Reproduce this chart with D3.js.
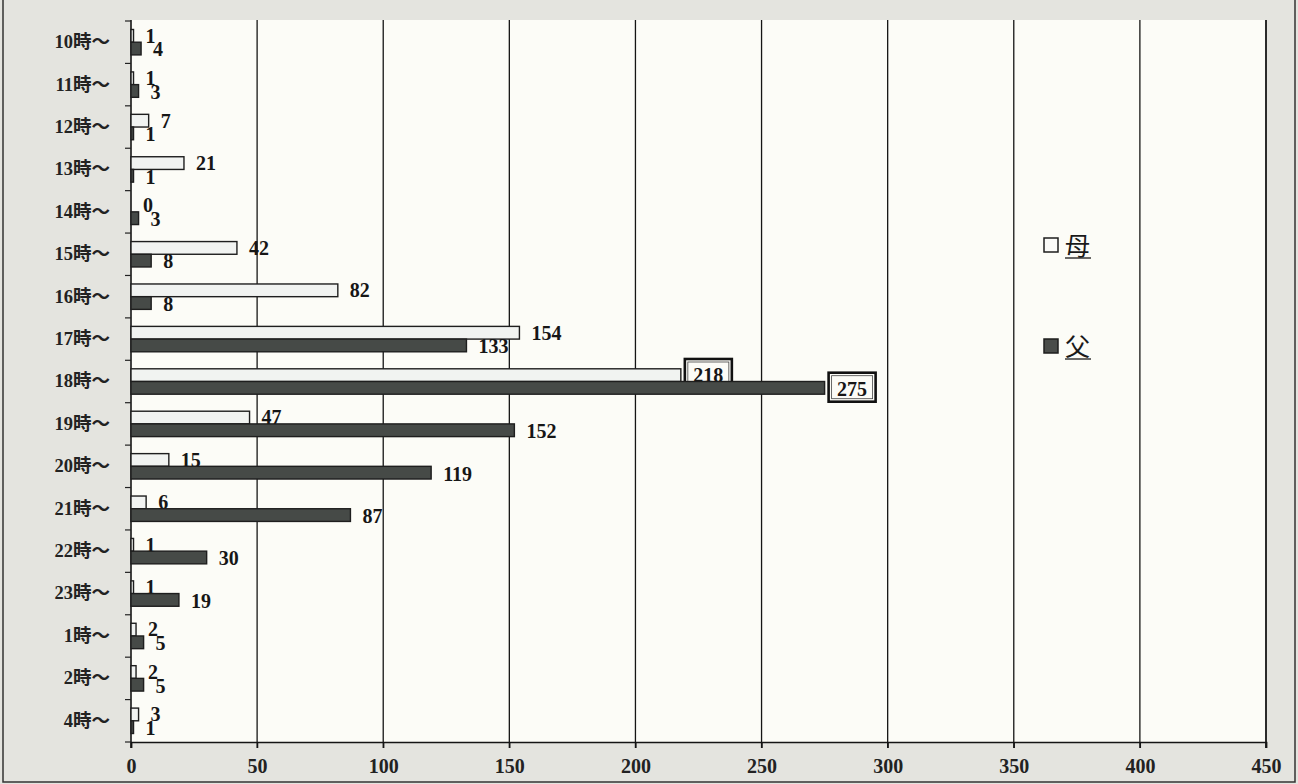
<!DOCTYPE html>
<html>
<head>
<meta charset="utf-8">
<script src="https://cdn.jsdelivr.net/npm/d3@7"></script>
<style>
  html, body { margin: 0; padding: 0; background: #e4e4df; }
  svg { display: block; }
  .num { font-family: "Liberation Serif", serif; font-weight: bold; font-size: 20px; fill: #161616; }
  .cat text { font-family: "Liberation Serif", "Noto Sans CJK JP", serif; font-weight: bold; font-size: 18.5px; fill: #222; }
  .xax text { font-family: "Liberation Serif", serif; font-weight: bold; font-size: 20px; fill: #222; }
  .legend text { font-family: "Noto Sans CJK JP", sans-serif; font-size: 25px; fill: #1a1a1a; }
</style>
</head>
<body>
<svg id="chart" width="1298" height="784"></svg>
<script>
// Time slots (hour the activity starts) and counts per parent
const categories = ["10時～", "11時～", "12時～", "13時～", "14時～", "15時～", "16時～", "17時～",
                    "18時～", "19時～", "20時～", "21時～", "22時～", "23時～", "1時～", "2時～", "4時～"];
const motherValues = [1, 1, 7, 21, 0, 42, 82, 154, 218, 47, 15, 6, 1, 1, 2, 2, 3];
const fatherValues = [4, 3, 1, 1, 3, 8, 8, 133, 275, 152, 119, 87, 30, 19, 5, 5, 1];
const seriesNames = ["母", "父"];
const xTicks = [0, 50, 100, 150, 200, 250, 300, 350, 400, 450];
const peakSlot = "18時～";

const W = 1298, H = 784;
const plot = { left: 131, right: 1266, top: 20, bottom: 742 };

const svg = d3.select("#chart");

// outer panel and frame
svg.append("rect").attr("x", 0).attr("y", 0).attr("width", W).attr("height", H).attr("fill", "#e4e4df");
svg.append("path")
  .attr("d", `M3,0 V782 H1295 V0`)
  .attr("fill", "none").attr("stroke", "#333").attr("stroke-width", 1.5);

// plot background
svg.append("rect")
  .attr("x", plot.left).attr("y", plot.top)
  .attr("width", plot.right - plot.left).attr("height", plot.bottom - plot.top)
  .attr("fill", "#fcfcf7");

const x = d3.scaleLinear().domain([0, 450]).range([plot.left, plot.right]);
const y = d3.scaleBand().domain(categories).range([plot.top + 1, plot.bottom]).padding(0);
const sub = d3.scaleBand().domain(seriesNames).range([0, y.bandwidth()]).paddingInner(0).paddingOuter(0.67);

// vertical gridlines
svg.append("g").selectAll("line").data(xTicks.filter(d => d > 0)).join("line")
  .attr("x1", d => x(d)).attr("x2", d => x(d))
  .attr("y1", plot.top).attr("y2", plot.bottom + 6)
  .attr("stroke", "#151515").attr("stroke-width", d => d === 450 ? 1.8 : 1.3);

// x axis
const xAxis = svg.append("g").attr("class", "xax")
  .attr("transform", `translate(0,${plot.bottom})`)
  .call(d3.axisBottom(x).tickValues(xTicks).tickSize(6).tickPadding(11));
xAxis.select(".domain").attr("stroke", "#151515").attr("stroke-width", 1.6);
xAxis.selectAll(".tick line").attr("stroke", "#151515").attr("stroke-width", 1.3);

// y axis: labels centred on each band, ticks on band boundaries
const yAxis = svg.append("g").attr("class", "cat")
  .attr("transform", `translate(${plot.left},0)`)
  .call(d3.axisLeft(y).tickSize(0).tickPadding(21));
yAxis.select(".domain").remove();
svg.append("line")
  .attr("x1", plot.left).attr("x2", plot.left)
  .attr("y1", plot.top).attr("y2", plot.bottom + 6)
  .attr("stroke", "#151515").attr("stroke-width", 1.6);
const bounds = categories.map(c => y(c)).concat([y.range()[1]]);
svg.append("g").selectAll("line").data(bounds).join("line")
  .attr("x1", plot.left - 6).attr("x2", plot.left)
  .attr("y1", d => d).attr("y2", d => d)
  .attr("stroke", "#222").attr("stroke-width", 1.2);

const series = [
  { name: "母", values: motherValues, fill: "#f1f3f1", labelDrop: 0.5 },
  { name: "父", values: fatherValues, fill: "#464a47", labelDrop: 1.5 }
];

const barsLayer = svg.append("g");

series.forEach(s => {
  const rows = categories.map((c, i) => ({ cat: c, value: s.values[i] }));
  const g = barsLayer.append("g");
  g.selectAll("rect").data(rows.filter(d => d.value > 0)).join("rect")
    .attr("x", x(0))
    .attr("y", d => y(d.cat) + sub(s.name))
    .attr("width", d => x(d.value) - x(0))
    .attr("height", sub.bandwidth())
    .attr("fill", s.fill)
    .attr("stroke", "#1e1e1e").attr("stroke-width", 1.4);

  const base = d => y(d.cat) + sub(s.name) + sub.bandwidth() + s.labelDrop;

  // plain value labels
  g.selectAll("text.num").data(rows.filter(d => d.cat !== peakSlot)).join("text")
    .attr("class", "num")
    .attr("x", d => x(d.value) + 12)
    .attr("y", base)
    .text(d => d.value);

  // framed value labels for the peak time slot
  const boxed = g.selectAll("g.boxed").data(rows.filter(d => d.cat === peakSlot)).join("g").attr("class", "boxed");
  boxed.append("rect")
    .attr("x", d => x(d.value) + 4).attr("y", d => base(d) - 23)
    .attr("width", 47).attr("height", 29)
    .attr("fill", "#fcfcf7").attr("stroke", "#111").attr("stroke-width", 2.6);
  boxed.append("rect")
    .attr("x", d => x(d.value) + 7).attr("y", d => base(d) - 20)
    .attr("width", 41).attr("height", 23)
    .attr("fill", "none").attr("stroke", "#444").attr("stroke-width", 0.8);
  boxed.append("text")
    .attr("class", "num")
    .attr("text-anchor", "middle")
    .attr("x", d => x(d.value) + 4 + 23.5)
    .attr("y", base)
    .text(d => d.value);
});

// legend
const legend = svg.append("g").attr("class", "legend");
const legendRows = [
  { name: "母", fill: "#fbfbf8", y: 245 },
  { name: "父", fill: "#4a4d4a", y: 346 }
];
legendRows.forEach(r => {
  legend.append("rect")
    .attr("x", 1044).attr("y", r.y - 7).attr("width", 14).attr("height", 14)
    .attr("fill", r.fill).attr("stroke", "#1e1e1e").attr("stroke-width", 1.5);
  legend.append("text").attr("x", 1065).attr("y", r.y + 10).text(r.name);
  legend.append("line")
    .attr("x1", 1065).attr("x2", 1091).attr("y1", r.y + 13).attr("y2", r.y + 13)
    .attr("stroke", "#1a1a1a").attr("stroke-width", 1.3);
});
</script>
</body>
</html>
